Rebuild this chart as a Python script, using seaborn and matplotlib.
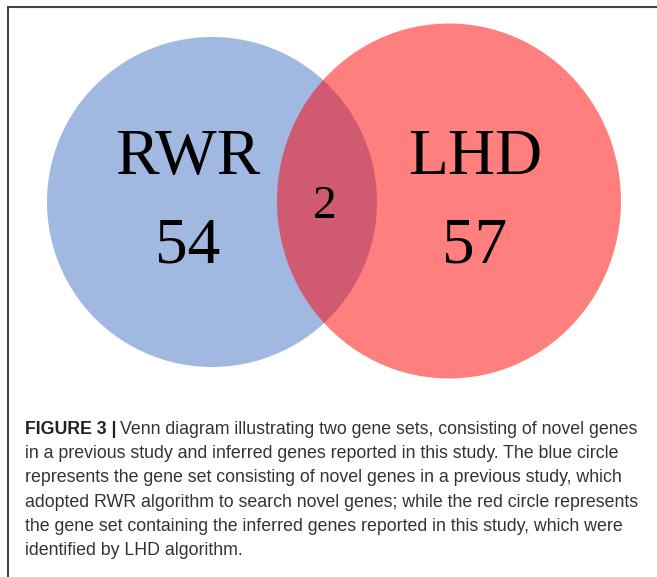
import matplotlib
matplotlib.use("Agg")
from matplotlib import pyplot as plt
from matplotlib.patches import Ellipse
from matplotlib.lines import Line2D
import seaborn as sns

# venn data
set_names = ["RWR", "LHD"]
only_counts = [54, 57]
shared_count = [2]

caption_head = "FIGURE 3 |"
caption_lines = [
    "Venn diagram illustrating two gene sets, consisting of novel genes",
    "in a previous study and inferred genes reported in this study. The blue circle",
    "represents the gene set consisting of novel genes in a previous study, which",
    "adopted RWR algorithm to search novel genes; while the red circle represents",
    "the gene set containing the inferred genes reported in this study, which were",
    "identified by LHD algorithm.",
]

sns.set_theme(style="white")
colors = ["#4472C4", "#FF0000"]

W, H = 657, 577
fig = plt.figure(figsize=(W / 100, H / 100), dpi=100)
ax = fig.add_axes([0, 0, 1, 1])
ax.set_xlim(0, W)
ax.set_ylim(H, 0)
ax.axis("off")

# circle geometry (pixel units)
centers = [(212, 202), (449, 201)]
sizes = [(330, 330), (344, 355)]
for c, s, col in zip(centers, sizes, colors):
    ax.add_patch(Ellipse(c, s[0], s[1], facecolor=col, alpha=0.5, edgecolor="none"))

serif = ["Liberation Serif", "DejaVu Serif"]
label_pos = [(188, 158), (475, 158)]
count_pos = [(188, 247), (475, 247)]
for name, n, lp, cp in zip(set_names, only_counts, label_pos, count_pos):
    ax.text(*lp, name, family=serif, fontsize=47, ha="center", va="center", color="black")
    ax.text(*cp, str(n), family=serif, fontsize=47, ha="center", va="center", color="black")
ax.text(325, 207, str(shared_count[0]), family=serif, fontsize=34, ha="center", va="center", color="black")

# frame lines (left and top only)
ax.add_line(Line2D([8, W], [7, 7], color="#444444", lw=1.5))
ax.add_line(Line2D([8, 8], [7, H], color="#444444", lw=1.5))

# caption
sans = ["Liberation Sans", "DejaVu Sans"]
x0, y0, dy = 25, 434, 24.2
fs = 12.8
head = ax.text(x0, y0, caption_head, family=sans, fontsize=fs, weight="bold",
               color="#222222", ha="left", va="baseline")
fig.canvas.draw()
bb = head.get_window_extent()
x_after = ax.transData.inverted().transform((bb.x1, 0))[0] + 3
for i, line in enumerate(caption_lines):
    xx = x_after if i == 0 else x0
    ax.text(xx, y0 + i * dy, line, family=sans, fontsize=fs, color="#333333",
            ha="left", va="baseline")

fig.savefig("out.png", dpi=100)
